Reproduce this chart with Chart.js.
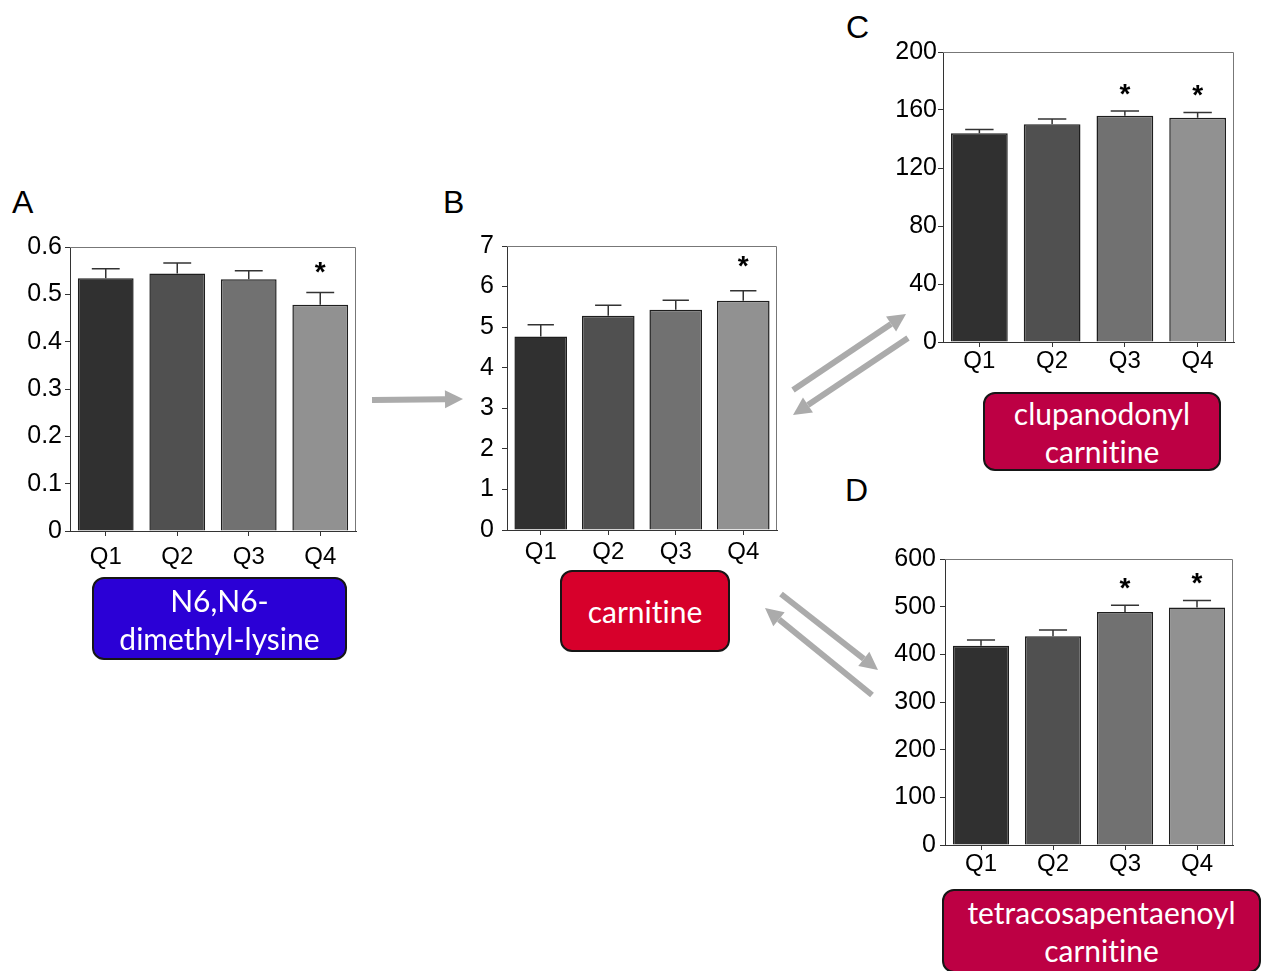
<!DOCTYPE html>
<html>
<head>
<meta charset="utf-8">
<script src="https://cdn.jsdelivr.net/npm/chart.js@4.4.1/dist/chart.umd.min.js"></script>
<style>
  body { margin: 0; background: #fff; width: 1268px; height: 971px; position: relative; overflow: hidden; }
  canvas { position: absolute; }
  .letter { position: absolute; font-family: "Liberation Sans", Arial, sans-serif; font-size: 32px; line-height: 32px; color: #000; }
  .tag { position: absolute; box-sizing: border-box; border: 2px solid #161616; border-radius: 12px;
         color: #fff; font-family: Lato, "Open Sans", sans-serif; font-size: 30px; line-height: 38px;
         font-variant-ligatures: none;
         display: flex; align-items: center; justify-content: center; text-align: center; }
  svg { position: absolute; left: 0; top: 0; }
</style>
</head>
<body>
<div class="letter" style="left:12px;top:186px">A</div>
<div class="letter" style="left:443px;top:186px">B</div>
<div class="letter" style="left:846px;top:11px">C</div>
<div class="letter" style="left:845px;top:474px">D</div>

<canvas id="chart-a"></canvas>
<canvas id="chart-b"></canvas>
<canvas id="chart-c"></canvas>
<canvas id="chart-d"></canvas>

<div class="tag" style="left:92px;top:577px;width:255px;height:83px;background:#2b00d6">N6,N6-<br>dimethyl-lysine</div>
<div class="tag" style="left:560px;top:570px;width:170px;height:82px;background:#d7002b">carnitine</div>
<div class="tag" style="left:983px;top:392px;width:238px;height:79px;background:#bd0044">clupanodonyl<br>carnitine</div>
<div class="tag" style="left:942px;top:889px;width:319px;height:84px;background:#bd0044">tetracosapentaenoyl<br>carnitine</div>

<svg width="1268" height="971" id="arrows"></svg>

<script>
const quartiles = ['Q1', 'Q2', 'Q3', 'Q4'];
const barColors = ['#303030', '#505050', '#717171', '#919191'];

// A: N6,N6-dimethyl-lysine
const meansA = [0.534, 0.544, 0.532, 0.478];
const semA = [0.020, 0.022, 0.018, 0.026];
const sigA = [false, false, false, true];

// B: carnitine
const meansB = [4.77, 5.28, 5.43, 5.65];
const semB = [0.29, 0.26, 0.23, 0.25];
const sigB = [false, false, false, true];

// C: clupanodonyl carnitine
const meansC = [143.9, 150.1, 156.1, 154.7];
const semC = [2.7, 3.7, 3.2, 3.6];
const sigC = [false, false, true, true];

// D: tetracosapentaenoyl carnitine
const meansD = [418, 438, 489, 498];
const semD = [12, 13, 14, 15];
const sigD = [false, false, true, true];

const FONT = '"Liberation Sans", Arial, sans-serif';

// error bars, asterisks and the light top/right frame
const extras = {
    id: 'extras',
    afterDatasetsDraw(chart, args, opts) {
        const { ctx, chartArea: a, scales: { y } } = chart;
        const meta = chart.getDatasetMeta(0);
        const means = chart.data.datasets[0].data;
        ctx.save();
        ctx.strokeStyle = '#333';
        ctx.lineWidth = 1.5;
        ctx.fillStyle = '#000';
        ctx.font = 'bold 28px ' + FONT;
        ctx.textAlign = 'center';
        ctx.textBaseline = 'alphabetic';
        opts.sem.forEach((e, i) => {
            const bar = meta.data[i];
            const y0 = y.getPixelForValue(means[i]);
            const y1 = y.getPixelForValue(means[i] + e);
            const half = bar.width * 0.25;
            ctx.beginPath();
            ctx.moveTo(bar.x, y0);
            ctx.lineTo(bar.x, y1);
            ctx.moveTo(bar.x - half, y1);
            ctx.lineTo(bar.x + half, y1);
            ctx.stroke();
            if (opts.sig[i]) {
                ctx.fillText('*', bar.x, y1 - opts.starGap);
            }
        });
        ctx.strokeStyle = '#777';
        ctx.lineWidth = 1;
        ctx.beginPath();
        ctx.moveTo(a.left, a.top + 0.5);
        ctx.lineTo(a.right - 0.5, a.top + 0.5);
        ctx.lineTo(a.right - 0.5, a.bottom);
        ctx.stroke();
        ctx.restore();
    },
};

function makePanel(id, area, means, sem, sig, yMax, step, yPad, xPad, starGap) {
    const canvas = document.getElementById(id);
    const w = area.r - area.l + 100;
    const h = area.b - area.t + 70;
    canvas.width = w;
    canvas.height = h;
    canvas.style.left = (area.l - 80) + 'px';
    canvas.style.top = (area.t - 20) + 'px';
    canvas.style.width = w + 'px';
    canvas.style.height = h + 'px';

    return new Chart(canvas, {
        type: 'bar',
        data: {
            labels: quartiles,
            datasets: [{
                data: means,
                backgroundColor: barColors,
                borderColor: '#1e1e1e',
                borderWidth: 1.5,
                borderSkipped: 'bottom',
                categoryPercentage: 1,
                barPercentage: 0.78,
            }],
        },
        options: {
            responsive: false,
            animation: false,
            layout: { padding: { top: 20, right: 20, left: 0, bottom: 0 } },
            plugins: {
                legend: { display: false },
                tooltip: { enabled: false },
                extras: { sem: sem, sig: sig, starGap: starGap },
            },
            scales: {
                x: {
                    afterFit(scale) { scale.height = 50; },
                    ticks: { color: '#000', font: { family: FONT, size: 24 }, padding: xPad },
                    grid: { offset: false, drawOnChartArea: false, tickLength: 5, color: '#333' },
                    border: { color: '#333', width: 1 },
                },
                y: {
                    min: 0,
                    max: yMax,
                    afterFit(scale) { scale.width = 80; },
                    ticks: { stepSize: step, color: '#000', font: { family: FONT, size: 25 }, padding: yPad },
                    grid: { drawOnChartArea: false, tickLength: 5, color: '#333' },
                    border: { color: '#333', width: 1 },
                },
            },
        },
        plugins: [extras],
    });
}

makePanel('chart-a', { l: 70, t: 247, r: 356, b: 531 }, meansA, semA, sigA, 0.6, 0.1, 3, 7, 11);
makePanel('chart-b', { l: 507, t: 243, r: 777, b: 530 }, meansB, semB, sigB, 7, 1, 8, 3, 16);
makePanel('chart-c', { l: 943, t: 52, r: 1234, b: 342 }, meansC, semC, sigC, 200, 40, 1, 0, 8);
makePanel('chart-d', { l: 945, t: 559, r: 1233, b: 845 }, meansD, semD, sigD, 600, 100, 4, 0, 8);

// connecting arrows between the panels
const arrows = [
    [372, 400, 463, 399],
    [793, 390, 906, 314],
    [908, 338, 793, 415],
    [781, 594, 878, 670],
    [872, 695, 765, 608],
];
const svg = document.getElementById('arrows');
arrows.forEach(([x1, y1, x2, y2]) => {
    const len = Math.hypot(x2 - x1, y2 - y1);
    const ux = (x2 - x1) / len, uy = (y2 - y1) / len;
    const bx = x2 - ux * 18, by = y2 - uy * 18;
    const line = document.createElementNS('http://www.w3.org/2000/svg', 'line');
    line.setAttribute('x1', x1); line.setAttribute('y1', y1);
    line.setAttribute('x2', bx); line.setAttribute('y2', by);
    line.setAttribute('stroke', '#ababab'); line.setAttribute('stroke-width', 6);
    svg.appendChild(line);
    const head = document.createElementNS('http://www.w3.org/2000/svg', 'polygon');
    const pts = [[x2, y2], [bx - uy * 9, by + ux * 9], [bx + uy * 9, by - ux * 9]];
    head.setAttribute('points', pts.map(p => p.join(',')).join(' '));
    head.setAttribute('fill', '#ababab');
    svg.appendChild(head);
});
</script>
</body>
</html>
